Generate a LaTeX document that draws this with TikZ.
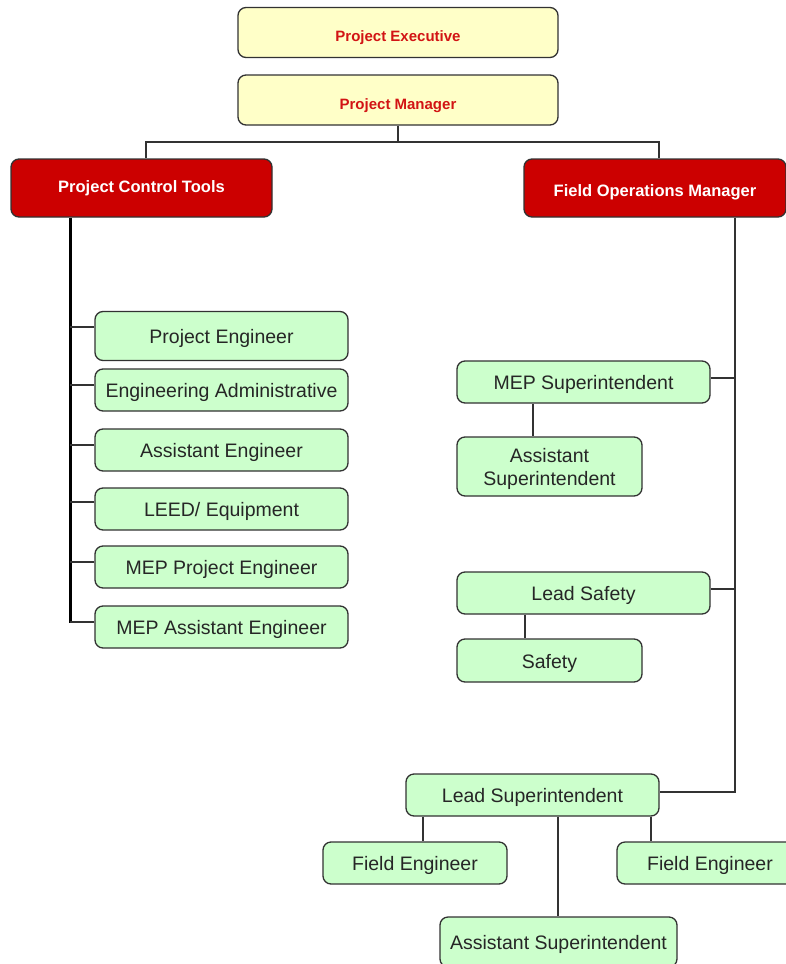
\documentclass[tikz,border=0pt]{standalone}
\usepackage{fontspec}
\setmainfont{Liberation Sans}
\definecolor{yel}{RGB}{255,255,200}
\definecolor{grn}{RGB}{204,255,204}
\definecolor{redfill}{RGB}{204,0,0}
\definecolor{redtxt}{RGB}{210,20,20}
\definecolor{edge}{RGB}{50,50,50}
\begin{document}
\begin{tikzpicture}[x=1pt,y=-1pt,
 box/.style={draw=edge,line width=1.3pt,rounded corners=8pt,inner sep=0pt,align=center},
 topbox/.style={box,fill=yel,text=redtxt,font=\fontsize{15}{18}\selectfont\bfseries,minimum width=320pt,minimum height=50pt,text height=18pt,text depth=0pt},
 mgr/.style={box,fill=redfill,text=white,font=\fontsize{16.5}{20}\selectfont\bfseries,minimum width=261pt,minimum height=58pt},
 gbox/.style={box,fill=grn,text=black!85,font=\fontsize{19.5}{23}\selectfont,minimum height=42pt,text height=16pt,text depth=1pt},
 conn/.style={draw=edge,line width=1.2pt},
 trunk/.style={draw=black,line width=3pt}]
\useasboundingbox (0,0) rectangle (786,964);
\clip (0,0) rectangle (786,964);
% top
\node[topbox] (pex) at (398,32.5) {Project Executive};
\node[topbox] (pm) at (398,100) {Project Manager};
\node[mgr] (pct) at (141.5,188) {Project Control Tools};
\node[mgr,minimum width=262pt,text height=16.5pt,text depth=0pt] (fom) at (655,188) {Field Operations Manager};
% left column
\node[gbox,minimum width=253pt,minimum height=49pt] (peng) at (221.5,336) {Project Engineer};
\node[gbox,minimum width=253pt] (ea) at (221.5,390) {Engineering Administrative};
\node[gbox,minimum width=253pt] (ae) at (221.5,450) {Assistant Engineer};
\node[gbox,minimum width=253pt] (leed) at (221.5,509) {LEED/ Equipment};
\node[gbox,minimum width=253pt] (mpe) at (221.5,567) {MEP Project Engineer};
\node[gbox,minimum width=253pt] (mae) at (221.5,627) {MEP Assistant Engineer};
% right column
\node[gbox,minimum width=253pt] (ms) at (583.5,382) {MEP Superintendent};
\node[gbox,minimum width=185pt,minimum height=59pt,text height=38pt,text depth=1pt] (as1) at (549.5,466.5) {Assistant\\Superintendent};
\node[gbox,minimum width=253pt] (lsf) at (583.5,593) {Lead Safety};
\node[gbox,minimum width=185pt,minimum height=43pt] (sf) at (549.5,660.5) {Safety};
\node[gbox,minimum width=253pt] (lsup) at (532.5,795) {Lead Superintendent};
\node[gbox,minimum width=184pt] (fe1) at (415,863) {Field Engineer};
\node[gbox,minimum width=186pt] (fe2) at (710,863) {Field Engineer};
\node[gbox,minimum width=237pt,minimum height=50pt] (as2) at (558.5,942) {Assistant Superintendent};
% connectors top
\coordinate (bus) at (398,142);
\draw[conn] (pm.south) -- (bus);
\draw[conn] (pct.north -| 146,0) |- (bus) -| (fom.north -| 659,0);
% left trunk
\coordinate (tx) at (70,0);
\coordinate (k1) at ([yshift=9pt]peng.west);
\coordinate (k2) at ([yshift=5pt]ea.west);
\coordinate (k3) at ([yshift=5pt]ae.west);
\coordinate (k4) at ([yshift=7pt]leed.west);
\coordinate (k5) at ([yshift=5pt]mpe.west);
\coordinate (k6) at ([yshift=5pt]mae.west);
\draw[trunk] (pct.south -| tx) -- ([yshift=-0.6pt]k6 -| tx);
\foreach \k in {k1,k2,k3,k4,k5,k6} \draw[conn] (\k) -- (\k -| tx);
% right trunk
\coordinate (rx) at (735,0);
\coordinate (q1) at ([yshift=4pt]ms.east);
\coordinate (q2) at ([yshift=4pt]lsf.east);
\coordinate (q3) at ([yshift=3pt]lsup.east);
\draw[conn] (fom.south -| rx) |- (q3);
\draw[conn] (q1) -- (q1 -| rx);
\draw[conn] (q2) -- (q2 -| rx);
\draw[conn] (ms.south -| 533,0) -- (as1.north -| 533,0);
\draw[conn] (lsf.south -| 525,0) -- (sf.north -| 525,0);
\draw[conn] (lsup.south -| 423,0) -- (fe1.north -| 423,0);
\draw[conn] (lsup.south -| 651,0) -- (fe2.north -| 651,0);
\draw[conn] (lsup.south -| 558,0) -- (as2.north -| 558,0);
\end{tikzpicture}
\end{document}
